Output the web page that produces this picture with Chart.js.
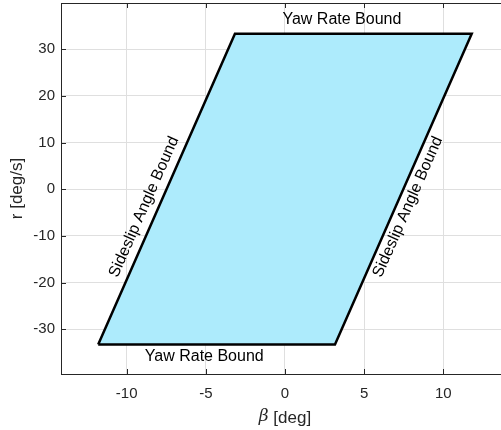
<!DOCTYPE html>
<html>
<head>
<meta charset="utf-8">
<script src="https://cdn.jsdelivr.net/npm/chart.js@4/dist/chart.umd.min.js"></script>
<style>
  body { margin: 0; background: #fff; }
</style>
</head>
<body>
<canvas id="envelope" width="501" height="430"></canvas>
<script>
// corner points of the stable handling envelope (beta in deg, r in deg/s)
const betaVertices = [-11.8, -3.16, 11.8, 3.16, -11.8];
const rVertices = [-33.3, 33.3, 33.3, -33.3, -33.3];

const yawLabel = 'Yaw Rate Bound';
const sideslipLabel = 'Sideslip Angle Bound';
const xTitle = '[deg]';
const yTitle = 'r [deg/s]';

const FONT = "'Liberation Sans', Arial, Helvetica, sans-serif";
const AXIS_COLOR = '#262626';

const points = betaVertices.map((b, i) => ({ x: b, y: rVertices[i] }));

// draws the boundary labels, axis titles, box and inward ticks
const decorPlugin = {
  id: 'decor',
  afterDatasetsDraw(chart) {
    const { ctx, scales: { x, y } } = chart;
    const px = v => x.getPixelForValue(v);
    const py = v => y.getPixelForValue(v);

    // slope of the slanted edges
    const ang = Math.atan2(py(rVertices[1]) - py(rVertices[0]), px(betaVertices[1]) - px(betaVertices[0]));

    ctx.save();
    ctx.fillStyle = '#000';
    ctx.font = '16px ' + FONT;
    ctx.textAlign = 'center';
    ctx.textBaseline = 'middle';

    ctx.fillText(yawLabel, px(3.6), py(36.3));
    ctx.fillText(yawLabel, px(-5.1), py(-35.8));

    [[-8.9, -3.8], [7.77, -3.8]].forEach(([bx, ry]) => {
      ctx.save();
      ctx.translate(px(bx), py(ry));
      ctx.rotate(ang);
      ctx.fillText(sideslipLabel, 0, 0);
      ctx.restore();
    });
    ctx.restore();
  },
  afterDraw(chart) {
    const { ctx, chartArea: a, scales: { x, y } } = chart;
    ctx.save();
    ctx.strokeStyle = AXIS_COLOR;
    ctx.lineWidth = 1;
    ctx.beginPath();
    // top border
    ctx.moveTo(a.left, a.top + 0.5);
    ctx.lineTo(a.right, a.top + 0.5);
    x.ticks.forEach(t => {
      const p = Math.round(x.getPixelForValue(t.value)) + 0.5;
      ctx.moveTo(p, a.bottom); ctx.lineTo(p, a.bottom - 5);
      ctx.moveTo(p, a.top); ctx.lineTo(p, a.top + 5);
    });
    y.ticks.forEach(t => {
      const p = Math.round(y.getPixelForValue(t.value)) + 0.5;
      ctx.moveTo(a.left, p); ctx.lineTo(a.left + 5, p);
    });
    ctx.stroke();

    // axis titles
    ctx.fillStyle = AXIS_COLOR;
    ctx.textBaseline = 'middle';
    ctx.font = "italic 17px 'DejaVu Serif', serif";
    const bw = ctx.measureText('\u03B2').width;
    ctx.font = '17px ' + FONT;
    const tw = ctx.measureText(' ' + xTitle).width;
    const x0 = x.getPixelForValue(0) - (bw + tw) / 2;
    ctx.textAlign = 'left';
    ctx.font = "italic 17px 'DejaVu Serif', serif";
    ctx.fillText('\u03B2', x0, 417);
    ctx.font = '17px ' + FONT;
    ctx.fillText(' ' + xTitle, x0 + bw, 418);

    ctx.save();
    ctx.translate(17, (a.top + a.bottom) / 2);
    ctx.rotate(-Math.PI / 2);
    ctx.textAlign = 'center';
    ctx.fillText(yTitle, 0, 0);
    ctx.restore();
    ctx.restore();
  }
};

new Chart(document.getElementById('envelope'), {
  type: 'scatter',
  data: {
    datasets: [{
      data: points,
      showLine: true,
      tension: 0,
      borderColor: '#000',
      borderWidth: 2.5,
      backgroundColor: 'rgb(173, 235, 252)',
      fill: 'shape',
      pointRadius: 0,
      pointHoverRadius: 0
    }]
  },
  options: {
    responsive: false,
    animation: false,
    layout: { padding: { top: 3, right: 0, left: 0, bottom: 0 } },
    plugins: {
      legend: { display: false },
      tooltip: { enabled: false }
    },
    scales: {
      x: {
        type: 'linear',
        min: -14.15,
        max: 13.65,
        afterFit: s => { s.height = 56; s.paddingLeft = 0; s.paddingRight = 0; },
        grid: { color: '#dfdfdf', drawTicks: false },
        border: { color: AXIS_COLOR, width: 1 },
        ticks: {
          stepSize: 5,
          includeBounds: false,
          padding: 11,
          color: AXIS_COLOR,
          font: { family: FONT, size: 15 }
        }
      },
      y: {
        type: 'linear',
        min: -39.6,
        max: 39.9,
        afterFit: s => { s.width = 61; s.paddingTop = 0; s.paddingBottom = 0; },
        grid: { color: '#dfdfdf', drawTicks: false },
        border: { color: AXIS_COLOR, width: 1 },
        ticks: {
          stepSize: 10,
          includeBounds: false,
          padding: 6,
          color: AXIS_COLOR,
          font: { family: FONT, size: 15 }
        }
      }
    }
  },
  plugins: [decorPlugin]
});
</script>
</body>
</html>
